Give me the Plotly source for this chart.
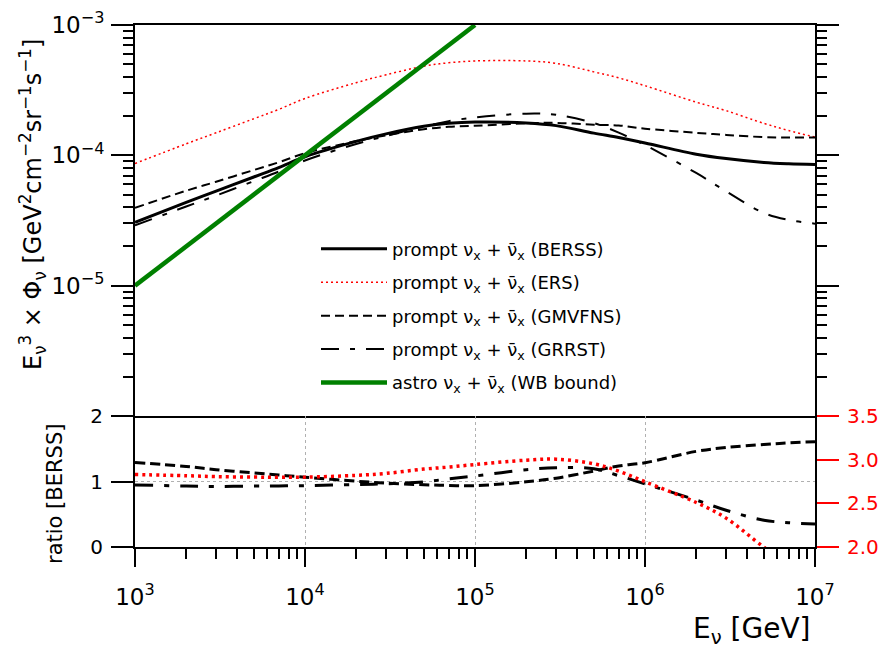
import plotly.graph_objects as go

# Neutrino energy grid [GeV]
energy = [1e3, 2e3, 3e3, 5e3, 7e3, 1e4, 2e4, 3e4, 5e4, 7e4, 1e5,
          2e5, 3e5, 5e5, 7e5, 1e6, 2e6, 3e6, 5e6, 7e6, 1e7]

# E^3 * flux [GeV^2 cm^-2 sr^-1 s^-1] for the prompt nu_x + anti-nu_x models
flux_berss = [3.06e-5, 4.35e-5, 5.31e-5, 6.82e-5, 8.04e-5, 9.75e-5, 1.28e-4,
              1.46e-4, 1.67e-4, 1.76e-4, 1.80e-4, 1.77e-4, 1.69e-4, 1.48e-4,
              1.37e-4, 1.245e-4, 1.02e-4, 9.44e-5, 8.81e-5, 8.61e-5, 8.51e-5]
flux_ers = [8.66e-5, 1.225e-4, 1.49e-4, 1.91e-4, 2.25e-4, 2.73e-4, 3.61e-4,
            4.15e-4, 4.83e-4, 5.13e-4, 5.30e-4, 5.30e-4, 5.08e-4, 4.37e-4,
            3.93e-4, 3.42e-4, 2.56e-4, 2.20e-4, 1.76e-4, 1.55e-4, 1.38e-4]
flux_gmvfns = [3.95e-5, 5.35e-5, 6.27e-5, 7.71e-5, 8.84e-5, 1.038e-4, 1.286e-4,
               1.424e-4, 1.587e-4, 1.654e-4, 1.685e-4, 1.761e-4, 1.775e-4,
               1.717e-4, 1.695e-4, 1.602e-4, 1.489e-4, 1.435e-4, 1.379e-4,
               1.369e-4, 1.368e-4]
flux_grrst = [2.90e-5, 4.05e-5, 4.91e-5, 6.34e-5, 7.50e-5, 9.13e-5, 1.222e-4,
              1.409e-4, 1.662e-4, 1.830e-4, 1.951e-4, 2.089e-4, 2.045e-4,
              1.769e-4, 1.492e-4, 1.198e-4, 7.32e-5, 5.29e-5, 3.61e-5,
              3.19e-5, 2.99e-5]

# Waxman-Bahcall bound (astrophysical), end points of the straight line
wb_energy = [1e3, 1e5]
wb_flux = [1e-5, 1e-3]

# Tick labels
x_tickvals = [1e3, 1e4, 1e5, 1e6, 1e7]
x_ticktext = ["10<sup>3</sup>", "10<sup>4</sup>", "10<sup>5</sup>",
              "10<sup>6</sup>", "10<sup>7</sup>"]
y_tickvals = [1e-5, 1e-4, 1e-3]
y_ticktext = ["10<sup>−5</sup>", "10<sup>−4</sup>", "10<sup>−3</sup>"]
ratio_tickvals = [0, 1, 2]
ratio_ticktext = ["0", "1", "2"]
ers_tickvals = [2.0, 2.5, 3.0, 3.5]
ers_ticktext = ["2.0", "2.5", "3.0", "3.5"]

nu = "ν<sub>x</sub> + ν̄<sub>x</sub>"
FONT = "DejaVu Sans"

ratio_ers = [a / b for a, b in zip(flux_ers, flux_berss)]
ratio_gmvfns = [a / b for a, b in zip(flux_gmvfns, flux_berss)]
ratio_grrst = [a / b for a, b in zip(flux_grrst, flux_berss)]

fig = go.Figure()

# ---- upper panel: fluxes ----
fig.add_trace(go.Scatter(x=energy, y=flux_berss, mode="lines", line_shape="spline",
                         line=dict(color="black", width=3), legendgroup="a",
                         name=f"prompt {nu} (BERSS)", xaxis="x", yaxis="y"))
fig.add_trace(go.Scatter(x=energy, y=flux_ers, mode="lines", line_shape="spline",
                         line=dict(color="red", width=1.5, dash="2px,3px"), legendgroup="b",
                         name=f"prompt {nu} (ERS)", xaxis="x", yaxis="y"))
fig.add_trace(go.Scatter(x=energy, y=flux_gmvfns, mode="lines", line_shape="spline",
                         line=dict(color="black", width=2, dash="9px,5px"), legendgroup="c",
                         name=f"prompt {nu} (GMVFNS)", xaxis="x", yaxis="y"))
fig.add_trace(go.Scatter(x=energy, y=flux_grrst, mode="lines", line_shape="spline",
                         line=dict(color="black", width=2, dash="18px,11px,5px,11px"),
                         legendgroup="d",
                         name=f"prompt {nu} (GRRST)", xaxis="x", yaxis="y"))
fig.add_trace(go.Scatter(x=wb_energy, y=wb_flux, mode="lines",
                         line=dict(color="#008000", width=4.5), legendgroup="e",
                         name=f"astro {nu} (WB bound)", xaxis="x", yaxis="y"))

# ---- lower panel: ratios to BERSS ----
fig.add_trace(go.Scatter(x=energy, y=ratio_gmvfns, mode="lines", line_shape="spline",
                         line=dict(color="black", width=3, dash="10px,5px"),
                         showlegend=False, xaxis="x2", yaxis="y2"))
fig.add_trace(go.Scatter(x=energy, y=ratio_grrst, mode="lines", line_shape="spline",
                         line=dict(color="black", width=3, dash="18px,11px,5px,11px"),
                         showlegend=False, xaxis="x2", yaxis="y2"))
fig.add_trace(go.Scatter(x=energy, y=ratio_ers, mode="lines", line_shape="spline",
                         line=dict(color="red", width=3.5, dash="3px,4px"),
                         showlegend=False, xaxis="x2", yaxis="y3"))

split = 131 / 522

x_minor = [k * 10 ** n for n in range(3, 7) for k in range(2, 10)]
y_minor = [k * 10.0 ** n for n in range(-6, -3) for k in range(2, 10)]

axis_common = dict(linecolor="black", linewidth=2, tickcolor="black", tickwidth=2,
                   tickfont=dict(family=FONT, size=23, color="black"), zeroline=False,
                   automargin=False)

fig.update_layout(
    width=880, height=648,
    margin=dict(l=135, r=65, t=25, b=101, autoexpand=False),
    paper_bgcolor="white", plot_bgcolor="white",
    font=dict(family=FONT, color="black"),
    xaxis=dict(type="log", range=[3, 7], domain=[0, 1], anchor="y",
               showline=True, mirror=True, linecolor="black", linewidth=2,
               ticks="", showticklabels=False, showgrid=False, zeroline=False,
               automargin=False),
    yaxis=dict(type="log", range=[-6, -3], domain=[split, 1], anchor="x",
               showline=True, mirror="ticks", ticks="outside", ticklen=22,
               tickvals=y_tickvals, ticktext=y_ticktext, showgrid=False,
               ticklabelstandoff=2,
               minor=dict(tickvals=y_minor, ticklen=10, tickwidth=2,
                          tickcolor="black", ticks="outside", showgrid=False),
               **axis_common),
    xaxis2=dict(type="log", range=[3, 7], domain=[0, 1], anchor="y2",
                showline=True, mirror=False, ticks="outside", ticklen=18,
                tickvals=x_tickvals, ticktext=x_ticktext,
                showgrid=True, gridcolor="#b0b0b0", gridwidth=1, griddash="3px,3px",
                ticklabelstandoff=10,
                minor=dict(tickvals=x_minor, ticklen=10, tickwidth=2,
                           tickcolor="black", ticks="outside", showgrid=False),
                **axis_common),
    yaxis2=dict(range=[0, 2], domain=[0, split], anchor="x2",
                showline=True, ticks="outside", ticklen=22,
                tickvals=ratio_tickvals, ticktext=ratio_ticktext,
                showgrid=True, gridcolor="#b0b0b0", gridwidth=1, griddash="3px,3px",
                linecolor="black", linewidth=2, tickcolor="black", tickwidth=2,
                tickfont=dict(family=FONT, size=20, color="black"), zeroline=False,
                ticklabelstandoff=4, automargin=False),
    yaxis3=dict(range=[2.0, 3.5], overlaying="y2", side="right", anchor="x2",
                showline=True, ticks="outside", ticklen=22,
                tickvals=ers_tickvals, ticktext=ers_ticktext, showgrid=False,
                linecolor="black", linewidth=2, tickcolor="red", tickwidth=1.5,
                tickfont=dict(family=FONT, size=20, color="red"), zeroline=False,
                ticklabelstandoff=4, automargin=False),
    legend=dict(x=(316 - 135) / 680, y=0.606, xanchor="left", yanchor="top",
                bgcolor="rgba(0,0,0,0)", borderwidth=0,
                font=dict(family=FONT, size=18, color="black"),
                itemwidth=66, tracegroupgap=7, traceorder="grouped"),
    showlegend=True,
)

fig.add_annotation(
    text="E<sub>ν</sub><sup>3</sup> × Φ<sub>ν</sub> [GeV<sup>2</sup>cm<sup>−2</sup>sr<sup>−1</sup>s<sup>−1</sup>]",
    xref="paper", yref="paper", x=(32 - 135) / 680, y=1 - (205 - 25) / 522,
    xanchor="center", yanchor="middle", textangle=-90, showarrow=False,
    font=dict(family=FONT, size=24, color="black"))
fig.add_annotation(
    text="ratio [BERSS]",
    xref="paper", yref="paper", x=(55 - 135) / 680, y=(547 - 494) / 522,
    xanchor="center", yanchor="middle", textangle=-90, showarrow=False,
    font=dict(family=FONT, size=21, color="black"))
fig.add_annotation(
    text="E<sub>ν</sub> [GeV]",
    xref="paper", yref="paper", x=(812 - 135) / 680, y=-(630 - 547) / 522,
    xanchor="right", yanchor="middle", showarrow=False,
    font=dict(family=FONT, size=28, color="black"))

fig.write_html("out.html")
